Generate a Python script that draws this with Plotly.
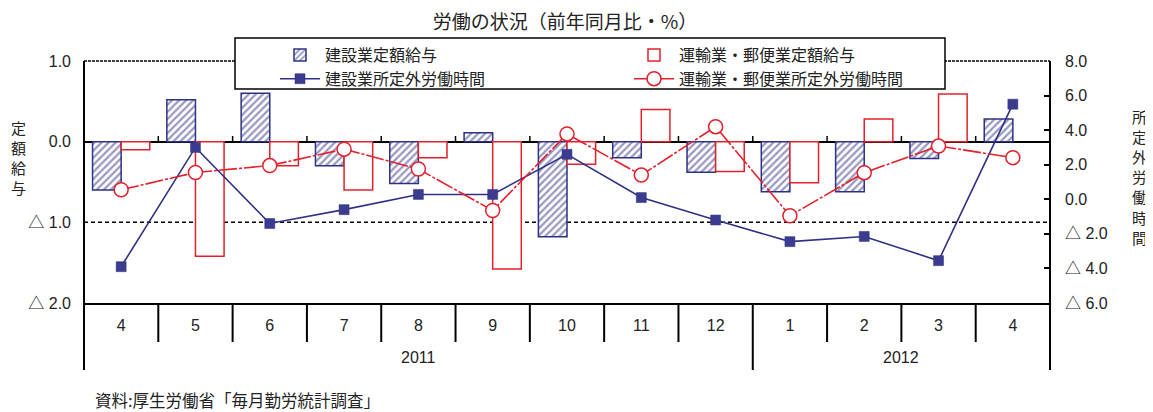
import plotly.graph_objects as go

years = ["2011", "2012"]
year_pos = [4, 10.5]
months = ["4", "5", "6", "7", "8", "9", "10", "11", "12", "1", "2", "3", "4"]
xpos = list(range(len(months)))

# 定額給与 (left axis, %)
kensetsu_kyuyo = [-0.6, 0.52, 0.6, -0.3, -0.52, 0.11, -1.18, -0.2, -0.38, -0.62, -0.62, -0.21, 0.28]
unyu_kyuyo = [-0.1, -1.42, -0.3, -0.6, -0.2, -1.58, -0.28, 0.4, -0.37, -0.51, 0.28, 0.59, None]
# 所定外労働時間 (right axis, %)
kensetsu_jikan = [-3.9, 3.0, -1.4, -0.6, 0.28, 0.28, 2.6, 0.1, -1.2, -2.45, -2.15, -3.55, 5.5]
unyu_jikan = [0.55, 1.55, 1.95, 2.9, 1.75, -0.65, 3.78, 1.4, 4.2, -0.95, 1.54, 3.08, 2.41]

left_ticks = [-2, -1, 0, 1]
left_text = ["△ 2.0", "△ 1.0", "0.0", "1.0"]
right_ticks = [-6, -4, -2, 0, 2, 4, 6, 8]
right_text = ["△ 6.0", "△ 4.0", "△ 2.0", "0.0", "2.0", "4.0", "6.0", "8.0"]

left_title = "定額給与"
right_title = "所定外労働時間"

NAVY = "#2e3184"
RED = "#e3202b"
FONT = "Liberation Sans, Noto Sans CJK JP, sans-serif"
JFONT = "Noto Sans CJK JP, sans-serif"
TXT = "#222"

# page body has an 8px margin: figure is laid out in screen coordinates minus 8
OFF = 8
W, H = 1153 - OFF, 412 - OFF
PX0, PX1, PY0, PY1 = 84, 1050, 61, 303   # plot area in screen pixels
L, R, T, B = PX0 - OFF, 1153 - PX1, PY0 - OFF, 412 - PY1
PW, PH = PX1 - PX0, PY1 - PY0


def px_x(p):
    return (p - PX0) / PW


def px_y(p):
    return (PY1 - p) / PH


fig = go.Figure()
fig.add_trace(go.Bar(
    x=xpos, y=kensetsu_kyuyo, name="建設業定額給与",
    marker=dict(color="white", line=dict(color=NAVY, width=1.5),
                pattern=dict(shape="/", fgcolor=NAVY, bgcolor="white", size=5, solidity=0.45)),
))
fig.add_trace(go.Bar(
    x=xpos, y=unyu_kyuyo, name="運輸業・郵便業定額給与",
    marker=dict(color="white", line=dict(color=RED, width=1.5)),
))
fig.add_trace(go.Scatter(
    x=xpos, y=kensetsu_jikan, name="建設業所定外労働時間", yaxis="y2",
    mode="lines+markers", line=dict(color=NAVY, width=1.6),
    marker=dict(symbol="square", size=10, color="#3b3b8f", line=dict(color=NAVY, width=0.5)),
))
fig.add_trace(go.Scatter(
    x=xpos, y=unyu_jikan, name="運輸業・郵便業所定外労働時間", yaxis="y2",
    mode="lines+markers", line=dict(color=RED, width=1.6, dash="18px,2px,3px,2px"),
    marker=dict(symbol="circle", size=14, color="white", line=dict(color=RED, width=1.5)),
))

n = len(months)
shapes = [
    dict(type="line", xref="paper", yref="y", x0=0, x1=1, y0=-1, y1=-1,
         line=dict(color="black", width=1.5, dash="4px,3px"), layer="below"),
    dict(type="line", xref="paper", yref="paper", x0=0, x1=1, y0=1, y1=1,
         line=dict(color="black", width=1.5, dash="3px,1px")),
    # legend frame
    dict(type="rect", xref="paper", yref="paper", x0=px_x(235), x1=px_x(945),
         y0=px_y(89), y1=px_y(38), fillcolor="white", line=dict(color="black", width=1.5),
         layer="above"),
]
for i in range(1, n):
    # small ticks on the zero line at category boundaries
    shapes.append(dict(type="line", xref="paper", yref="y", x0=i / n, x1=i / n,
                       y0=0, y1=0.07, line=dict(color="black", width=1.5)))
    # category separators below the axis
    bottom = px_y(370) if i == 9 else px_y(342)
    shapes.append(dict(type="line", xref="paper", yref="paper", x0=i / n, x1=i / n,
                       y0=0, y1=bottom, line=dict(color="black", width=2)))
for xe in (0, 1):
    shapes.append(dict(type="line", xref="paper", yref="paper", x0=xe, x1=xe,
                       y0=1, y1=px_y(370), line=dict(color="black", width=2)))

annotations = [
    dict(text="資料:厚生労働省「毎月勤労統計調査」", xref="paper", yref="paper",
         x=px_x(93), y=px_y(400), xanchor="left", yanchor="middle", showarrow=False,
         font=dict(family=JFONT, size=16.5, color=TXT)),
]
for k, ch in enumerate(left_title):
    annotations.append(dict(text=ch, xref="paper", yref="paper", x=px_x(18),
                            y=px_y(127 + 20.3 * k), xanchor="center", yanchor="middle",
                            borderpad=0, showarrow=False,
                            font=dict(family=JFONT, size=15, color=TXT)))
for k, ch in enumerate(right_title):
    annotations.append(dict(text=ch, xref="paper", yref="paper", x=px_x(1139),
                            y=px_y(116 + 20.2 * k), xanchor="center", yanchor="middle",
                            borderpad=0, showarrow=False,
                            font=dict(family=JFONT, size=15, color=TXT)))
for yr, p in zip(years, year_pos):
    annotations.append(dict(text=yr, xref="x", yref="paper", x=p, y=px_y(357),
                            yanchor="middle",
                            showarrow=False, font=dict(family=FONT, size=16, color=TXT)))

fig.update_layout(
    width=W, height=H,
    margin=dict(l=L, r=R, t=T, b=B, autoexpand=False),
    paper_bgcolor="white", plot_bgcolor="white",
    barmode="group", bargap=0.23, bargroupgap=0,
    font=dict(family=FONT, size=16, color=TXT),
    title=dict(text="労働の状況（前年同月比・%）", x=(565 - OFF) / W, xanchor="center",
               y=1 - (22 - OFF) / H, yanchor="middle",
               font=dict(family=JFONT, size=19, color=TXT)),
    showlegend=True,
    legend=dict(orientation="h", x=px_x(275), xanchor="left", y=px_y(38), yanchor="top",
                bgcolor="rgba(0,0,0,0)", borderwidth=0,
                entrywidth=299, tracegroupgap=0, itemwidth=40,
                font=dict(family=JFONT, size=16, color=TXT)),
    xaxis=dict(range=[-0.5, n - 0.5], tickvals=xpos, ticktext=months, automargin=False,
               showline=True, linecolor="black", linewidth=2, ticks="",
               ticklabelstandoff=7,
               tickfont=dict(family=FONT, size=16, color=TXT),
               showgrid=False, zeroline=False),
    yaxis=dict(range=[-2, 1], tickvals=left_ticks, ticktext=left_text, automargin=False,
               showgrid=False, zeroline=True, zerolinecolor="black", zerolinewidth=2,
               showline=False, ticks="", ticklabelstandoff=12,
               tickfont=dict(family=FONT, size=16, color=TXT)),
    yaxis2=dict(range=[-6, 8], tickvals=right_ticks, ticktext=right_text, automargin=False,
                overlaying="y", side="right", showgrid=False, zeroline=False,
                showline=False, ticklabelstandoff=14,
                ticks="inside", ticklen=6, tickwidth=1.5, tickcolor="black",
                tickfont=dict(family=FONT, size=16, color=TXT)),
    shapes=shapes,
    annotations=annotations,
)

fig.write_html("out.html")
